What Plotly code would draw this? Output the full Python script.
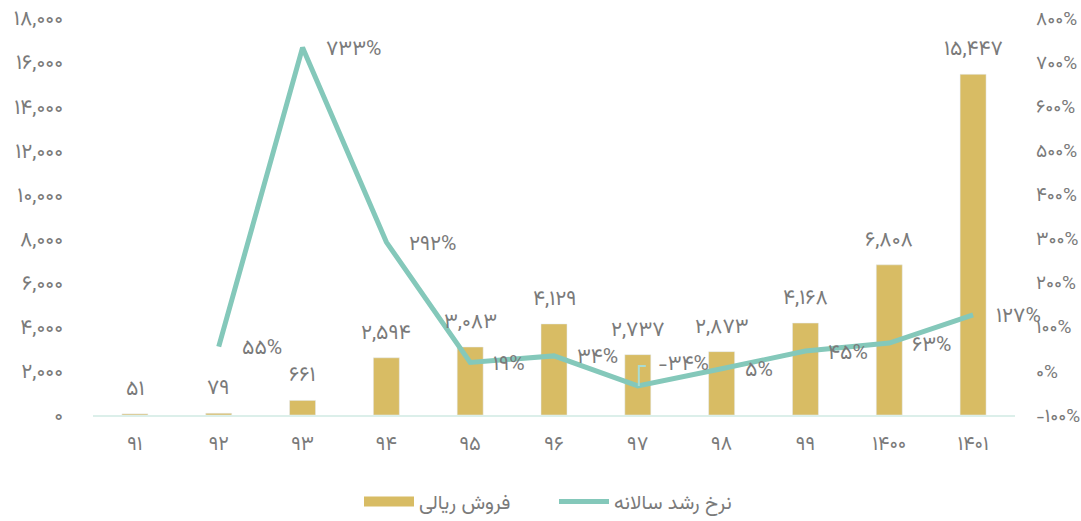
import plotly.graph_objects as go

# ---- data ----
categories = ["۹۱", "۹۲", "۹۳", "۹۴", "۹۵", "۹۶", "۹۷", "۹۸", "۹۹", "۱۴۰۰", "۱۴۰۱"]
sales = [51, 79, 661, 2594, 3083, 4129, 2737, 2873, 4168, 6808, 15447]
growth = [None, 55, 733, 292, 19, 34, -34, 5, 45, 63, 127]
left_ticks = [0, 2000, 4000, 6000, 8000, 10000, 12000, 14000, 16000, 18000]
right_ticks = [-100, 0, 100, 200, 300, 400, 500, 600, 700, 800]
sales_name = "فروش ریالی"
growth_name = "نرخ رشد سالانه"

FA = str.maketrans("0123456789", "۰۱۲۳۴۵۶۷۸۹")


def fa(s):
    return str(s).translate(FA)


BAR_C = "#D8BC64"
LINE_C = "#84C8BA"
TXT_C = "#7A7A7A"
FONT = "Vazirmatn, DejaVu Sans, sans-serif"

fig = go.Figure()
fig.add_trace(go.Bar(
    x=categories, y=sales, name=sales_name, marker_color=BAR_C,
    width=0.31, yaxis="y", hoverinfo="skip", showlegend=False,
))
# legend swatch for the bars (wide box like the reference)
fig.add_trace(go.Scatter(
    x=[None], y=[None], name=sales_name, mode="lines",
    line=dict(color=BAR_C, width=16), hoverinfo="skip", showlegend=True,
))
fig.add_trace(go.Scatter(
    x=categories, y=growth, name=growth_name, mode="lines",
    line=dict(color=LINE_C, width=5), yaxis="y2", hoverinfo="skip",
))

annotations = []
for c, v in zip(categories, sales):
    annotations.append(dict(
        x=c, y=v, xref="x", yref="y", text=fa(f"{v:,}"), showarrow=False,
        yanchor="bottom", yshift=6, font=dict(size=21, color=TXT_C, family=FONT),
    ))
shapes = []
for i, (c, g) in enumerate(zip(categories, growth)):
    if g is None:
        continue
    txt = fa(f"{g}%")
    if g < 0:
        annotations.append(dict(
            x=c, y=g, xref="x", yref="y2", text=txt, showarrow=False,
            xanchor="left", yanchor="middle", xshift=18, yshift=21,
            font=dict(size=21, color=TXT_C, family=FONT),
        ))
        shapes.append(dict(
            type="path", xref="x", yref="y2", xsizemode="pixel", ysizemode="pixel",
            xanchor=i, yanchor=g, path="M1,0 L1,20 L8,20",
            line=dict(color="#A9DCD2", width=2),
        ))
    else:
        annotations.append(dict(
            x=c, y=g, xref="x", yref="y2", text=txt, showarrow=False,
            xanchor="left", yanchor="middle", xshift=21, yshift=-2,
            font=dict(size=21, color=TXT_C, family=FONT),
        ))

fig.update_layout(
    width=1081, height=521,
    margin=dict(l=93, r=66, t=18, b=106, autoexpand=False),
    paper_bgcolor="white", plot_bgcolor="white",
    font=dict(family=FONT, color=TXT_C, size=19),
    showlegend=True,
    legend=dict(orientation="h", x=0.5, xanchor="center",
                yref="container", y=0.0, yanchor="bottom",
                font=dict(size=20, color=TXT_C), traceorder="normal", itemwidth=50,
                entrywidth=130, entrywidthmode="pixels"),
    xaxis=dict(
        type="category", range=[-0.5, len(categories) - 0.5],
        showgrid=False, showline=True, linecolor="#DCEFEA", linewidth=2,
        ticks="", tickfont=dict(size=20, color=TXT_C), ticklabelstandoff=9,
        automargin=False,
    ),
    yaxis=dict(
        range=[0, 18000], tickvals=left_ticks, ticktext=[fa(f"{t:,}") for t in left_ticks],
        showgrid=False, zeroline=False, showline=False, ticks="",
        tickfont=dict(size=21, color=TXT_C), ticklabelstandoff=29, automargin=False,
    ),
    yaxis2=dict(
        range=[-100, 800], overlaying="y", side="right",
        tickvals=right_ticks, ticktext=[fa(f"{t}%") for t in right_ticks],
        showgrid=False, zeroline=False, showline=False, ticks="",
        tickfont=dict(size=19, color=TXT_C), ticklabelstandoff=20, automargin=False,
    ),
    annotations=annotations,
    shapes=shapes,
    bargap=0.69,
)

fig.write_html(
    "out.html",
    config={"displayModeBar": False},
    post_script="document.body.style.margin='0';document.body.style.overflow='hidden';",
)
